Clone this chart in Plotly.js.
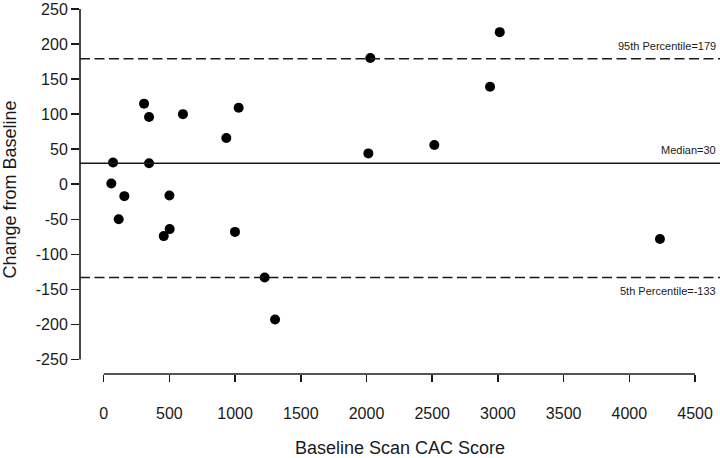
<!DOCTYPE html>
<html>
<head>
<meta charset="utf-8">
<script src="https://cdn.plot.ly/plotly-3.0.1.min.js"></script>
<style>
  html, body { margin: 0; padding: 0; background: #fff; }
  #chart { width: 720px; height: 458px; }
</style>
</head>
<body>
<div id="chart"></div>
<script>
// Data
const baselineCac = [307, 345, 603, 1027, 933, 71, 345, 58, 157, 500, 114,
                     502, 457, 999, 1225, 1304, 2029, 3014, 2940, 2516, 2014, 4233];
const changeFromBaseline = [115, 96, 100, 109, 66, 31, 30, 1, -17, -16, -50,
                            -64, -74, -68, -133, -193, 180, 217, 139, 56, 44, -78];

// Reference lines
const refValues = [179, 30, -133];
const refLabels = ['95th Percentile=179', 'Median=30', '5th Percentile=-133'];
const refDash = ['10px,4.5px', 'solid', '10px,4.5px'];
const refLabelShift = [13, 13, -14];

const xTicks = [0, 500, 1000, 1500, 2000, 2500, 3000, 3500, 4000, 4500];
const yTicks = [-250, -200, -150, -100, -50, 0, 50, 100, 150, 200, 250];
// plain hyphen minus like the original, not the unicode minus
const yTickText = ['-250', '-200', '-150', '-100', '-50', '0', '50', '100', '150', '200', '250'];

const ink = '#1a1a1a';
const font = 'Liberation Sans, Arial, Helvetica, sans-serif';

const trace = {
    x: baselineCac,
    y: changeFromBaseline,
    type: 'scatter',
    mode: 'markers',
    marker: { color: '#000', size: 10 },
    hoverinfo: 'x+y'
};

const shapes = refValues.map((v, i) => ({
    type: 'line', xref: 'paper', yref: 'y',
    x0: 0, x1: 1, y0: v, y1: v,
    line: { color: ink, width: 1.6, dash: refDash[i] }
}));

// detached R-style axis lines
shapes.push({
    type: 'line', xref: 'paper', yref: 'y',
    x0: 0, x1: 0, y0: yTicks[0], y1: yTicks[yTicks.length - 1],
    line: { color: ink, width: 1.6 }
});
shapes.push({
    type: 'line', xref: 'x', yref: 'paper',
    x0: xTicks[0], x1: xTicks[xTicks.length - 1], y0: 0, y1: 0,
    line: { color: ink, width: 1.6 }
});

const annotations = refValues.map((v, i) => ({
    xref: 'paper', yref: 'y',
    x: 1, y: v, xshift: -2, yshift: refLabelShift[i],
    xanchor: 'right', yanchor: 'middle',
    text: refLabels[i], showarrow: false,
    font: { family: font, size: 11, color: ink }
}));

const layout = {
    width: 720,
    height: 458,
    margin: { l: 80, r: 0, t: 5, b: 84 },
    paper_bgcolor: '#fff',
    plot_bgcolor: '#fff',
    showlegend: false,
    font: { family: font, color: ink },
    xaxis: {
        range: [-180.4, 4690],
        tickvals: xTicks,
        ticks: 'outside', ticklen: 7, tickwidth: 1.5, tickcolor: ink,
        ticklabelstandoff: 18,
        tickfont: { size: 16, color: ink },
        showgrid: false, zeroline: false, showline: false,
        title: { text: 'Baseline Scan CAC Score', font: { size: 18, color: ink }, standoff: 22 }
    },
    yaxis: {
        range: [-270.7, 255.7],
        tickvals: yTicks,
        ticktext: yTickText,
        ticklabeloverflow: 'allow',
        ticks: 'outside', ticklen: 8, tickwidth: 1.5, tickcolor: ink,
        tickfont: { size: 16, color: ink },
        showgrid: false, zeroline: false, showline: false,
        title: { text: 'Change from Baseline', font: { size: 18, color: ink }, standoff: 16 }
    },
    shapes: shapes,
    annotations: annotations
};

Plotly.newPlot('chart', [trace], layout, { displayModeBar: false, staticPlot: true });
</script>
</body>
</html>
